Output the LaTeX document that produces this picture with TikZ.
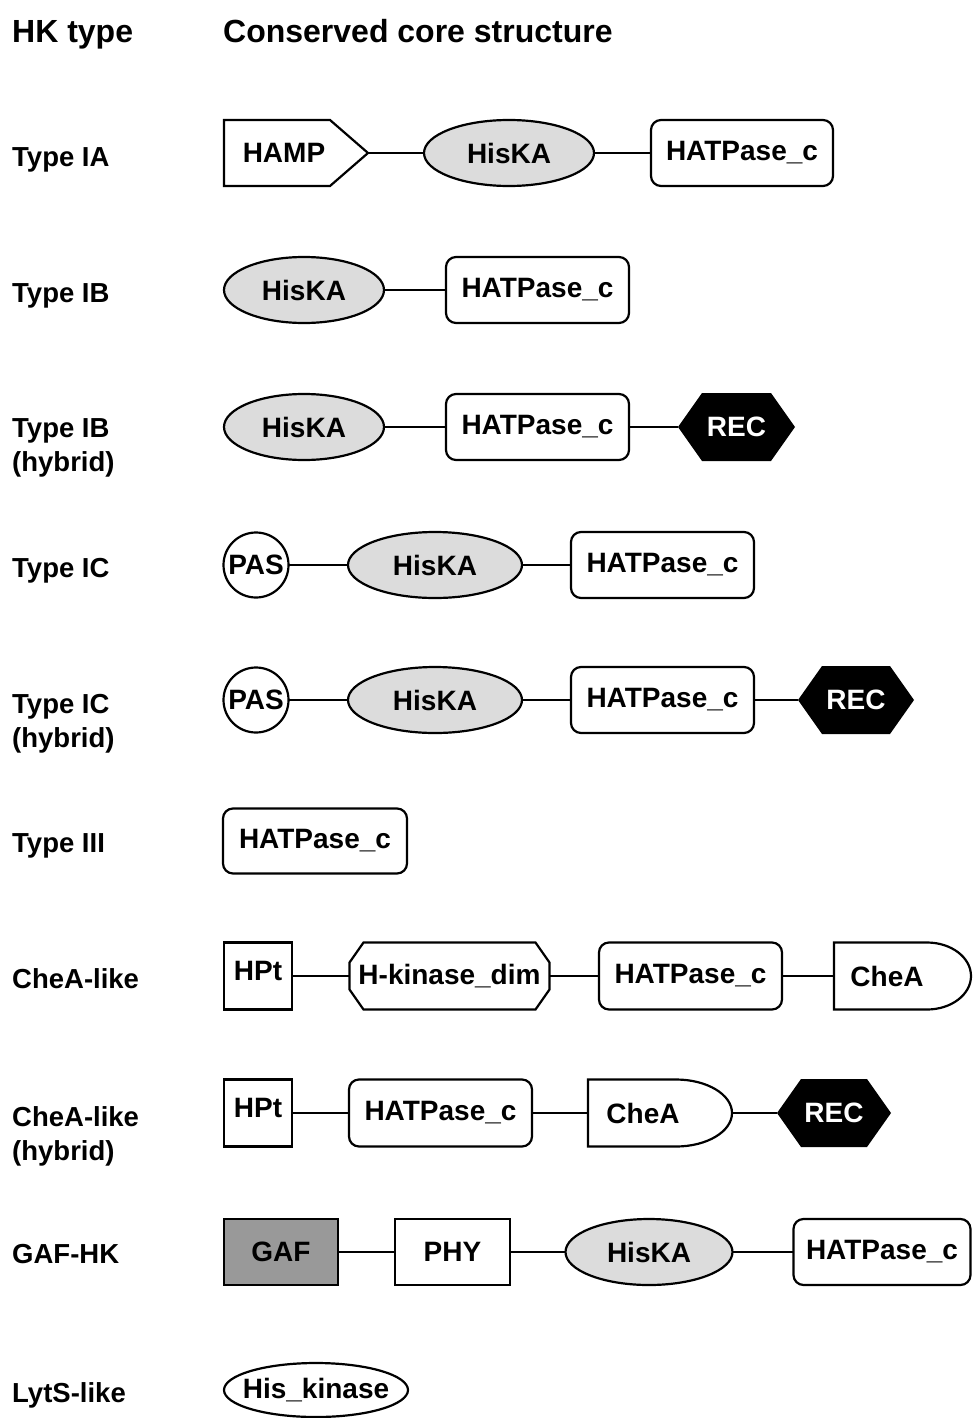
\documentclass[tikz,border=0pt]{standalone}
\usepackage{fontspec}
\setmainfont{Liberation Sans}
\usetikzlibrary{backgrounds,shapes.geometric}
\definecolor{kinfill}{HTML}{DCDCDC}
\definecolor{gaffill}{HTML}{999999}
\newcommand{\zw}[1]{\makebox[0pt]{#1}}
\tikzset{
 lw/.style={line width=2.2pt},
 dtext/.style={font=\fontsize{28}{32}\selectfont\bfseries},
 dom/.style={dtext, inner sep=0pt, outer sep=0pt, lw, minimum height=66pt},
 hat/.style={dom, draw, rectangle, rounded corners=10pt},
 sq/.style={dom, draw, rectangle},
 kin/.style={dom, draw, ellipse, fill=kinfill},
 pas/.style={dom, draw, circle, minimum size=65pt},
 plain/.style={dom, rectangle},
 link/.style={lw},
 rowlab/.style={font=\fontsize{27.5}{34}\selectfont\bfseries, align=left, inner sep=0pt},
 hdr/.style={font=\fontsize{32}{38}\selectfont\bfseries, anchor=base west, inner sep=0pt},
}
\begin{document}
\begin{tikzpicture}[x=1pt,y=-1pt]
\useasboundingbox (0,0) rectangle (972,1418);
% headers
\node[hdr] (h1) at (12,43) {HK type};
\node[hdr] (h2) at (223,43) {Conserved core structure};
% row labels
\node[rowlab, anchor=base west] (l1) at (12,166) {Type IA};
\node[rowlab, anchor=base west] (l2) at (12,302) {Type IB};
\node[rowlab, anchor=north west] (l3) at (12,418) {Type IB\\(hybrid)};
\node[rowlab, anchor=base west] (l4) at (12,577) {Type IC};
\node[rowlab, anchor=north west] (l5) at (12,694) {Type IC\\(hybrid)};
\node[rowlab, anchor=base west] (l6) at (12,852) {Type III};
\node[rowlab, anchor=base west] (l7) at (12,988) {CheA-like};
\node[rowlab, anchor=north west] (l8) at (12,1106) {CheA-like\\(hybrid)};
\node[rowlab, anchor=base west] (l9) at (12,1263) {GAF-HK};
\node[rowlab, anchor=base west] (l10) at (12,1402) {LytS-like};

% Row 1: Type IA
\node[plain, minimum width=144pt, label={[dtext,xshift=-12pt]center:HAMP}] (hamp) at (296,153) {};
\draw[lw] (hamp.north west) -- ([xshift=-38pt]hamp.north east) -- (hamp.east) -- ([xshift=-38pt]hamp.south east) -- (hamp.south west) -- cycle;
\node[kin, minimum width=170pt] (k1) at (509,153) {\zw{HisKA}};
\node[hat, minimum width=182pt] (c1) at (742,153) {HATPase\_c};
\draw[link] (hamp.east) -- (k1.west);
\draw[link] (k1.east) -- (c1.west);

% Row 2: Type IB
\node[kin, minimum width=160pt] (k2) at (304,290) {\zw{HisKA}};
\node[hat, minimum width=183pt] (c2) at (537.5,290) {HATPase\_c};
\draw[link] (k2.east) -- (c2.west);

% Row 3: Type IB hybrid
\node[kin, minimum width=160pt] (k3) at (304,427) {\zw{HisKA}};
\node[hat, minimum width=183pt] (c3) at (537.5,427) {HATPase\_c};
\node[plain, minimum width=117pt, minimum height=68pt, text=white] (r3) at (736.5,427) {REC};
\begin{scope}[on background layer]
\fill[black] (r3.west) -- ([xshift=24pt]r3.north west) -- ([xshift=-24pt]r3.north east) -- (r3.east) -- ([xshift=-24pt]r3.south east) -- ([xshift=24pt]r3.south west) -- cycle;
\end{scope}
\draw[link] (k3.east) -- (c3.west);
\draw[link] (c3.east) -- (r3.west);

% Row 4: Type IC
\node[pas] (p4) at (256,565) {\zw{PAS}};
\node[kin, minimum width=174pt] (k4) at (435,565) {\zw{HisKA}};
\node[hat, minimum width=183pt] (c4) at (662.5,565) {HATPase\_c};
\draw[link] (p4.east) -- (k4.west);
\draw[link] (k4.east) -- (c4.west);

% Row 5: Type IC hybrid
\node[pas] (p5) at (256,700) {\zw{PAS}};
\node[kin, minimum width=174pt] (k5) at (435,700) {\zw{HisKA}};
\node[hat, minimum width=183pt] (c5) at (662.5,700) {HATPase\_c};
\node[plain, minimum width=116pt, minimum height=68pt, text=white] (r5) at (856,700) {REC};
\begin{scope}[on background layer]
\fill[black] (r5.west) -- ([xshift=24pt]r5.north west) -- ([xshift=-24pt]r5.north east) -- (r5.east) -- ([xshift=-24pt]r5.south east) -- ([xshift=24pt]r5.south west) -- cycle;
\end{scope}
\draw[link] (p5.east) -- (k5.west);
\draw[link] (k5.east) -- (c5.west);
\draw[link] (c5.east) -- (r5.west);

% Row 6: Type III
\node[hat, minimum width=184pt, minimum height=65pt] (c6) at (315,841) {HATPase\_c};

% Row 7: CheA-like
\node[sq, minimum width=68pt, minimum height=67pt, label={[dtext,yshift=5pt]center:HPt}] (t7) at (258,976) {};
\node[plain, minimum width=200pt, minimum height=67pt] (d7) at (449.5,976) {H-kinase\_dim};
\draw[lw] ([xshift=14pt]d7.north west) -- ([xshift=-14pt]d7.north east) -- ([yshift=-20pt]d7.north east) -- ([yshift=20pt]d7.south east) -- ([xshift=-14pt]d7.south east) -- ([xshift=14pt]d7.south west) -- ([yshift=20pt]d7.south west) -- ([yshift=-20pt]d7.north west) -- cycle;
\node[hat, minimum width=183pt, minimum height=67pt] (c7) at (690.5,976) {HATPase\_c};
\node[plain, minimum width=137pt, minimum height=67pt, label={[dtext,xshift=-15.5pt]center:CheA}] (a7) at (902.5,976) {};
\draw[lw] (a7.north west) -- ([xshift=-44pt]a7.north east) arc[start angle=90, end angle=-90, x radius=44pt, y radius=33.5pt] -- (a7.south west) -- cycle;
\draw[link] (t7.east) -- (d7.west);
\draw[link] (d7.east) -- (c7.west);
\draw[link] (c7.east) -- (a7.west);

% Row 8: CheA-like hybrid
\node[sq, minimum width=68pt, minimum height=67pt, label={[dtext,yshift=5pt]center:HPt}] (t8) at (258,1113) {};
\node[hat, minimum width=183pt, minimum height=67pt] (c8) at (440.5,1113) {HATPase\_c};
\node[plain, minimum width=144pt, minimum height=67pt, label={[dtext,xshift=-17pt]center:CheA}] (a8) at (660,1113) {};
\draw[lw] (a8.north west) -- ([xshift=-56pt]a8.north east) arc[start angle=90, end angle=-90, x radius=56pt, y radius=33.5pt] -- (a8.south west) -- cycle;
\node[plain, minimum width=114pt, minimum height=68pt, text=white] (r8) at (834,1113) {REC};
\begin{scope}[on background layer]
\fill[black] (r8.west) -- ([xshift=24pt]r8.north west) -- ([xshift=-24pt]r8.north east) -- (r8.east) -- ([xshift=-24pt]r8.south east) -- ([xshift=24pt]r8.south west) -- cycle;
\end{scope}
\draw[link] (t8.east) -- (c8.west);
\draw[link] (c8.east) -- (a8.west);
\draw[link] (a8.east) -- (r8.west);

% Row 9: GAF-HK
\node[sq, fill=gaffill, minimum width=114pt] (g9) at (281,1252) {GAF};
\node[sq, minimum width=115pt] (y9) at (452.5,1252) {PHY};
\node[kin, minimum width=167pt] (k9) at (649,1252) {\zw{HisKA}};
\node[hat, minimum width=177pt] (c9) at (882,1252) {HATPase\_c};
\draw[link] (g9.east) -- (y9.west);
\draw[link] (y9.east) -- (k9.west);
\draw[link] (k9.east) -- (c9.west);

% Row 10: LytS-like
\node[dom, draw, ellipse, minimum width=184pt, minimum height=54pt] (e10) at (316,1390) {\zw{His\_kinase}};
\end{tikzpicture}
\end{document}
